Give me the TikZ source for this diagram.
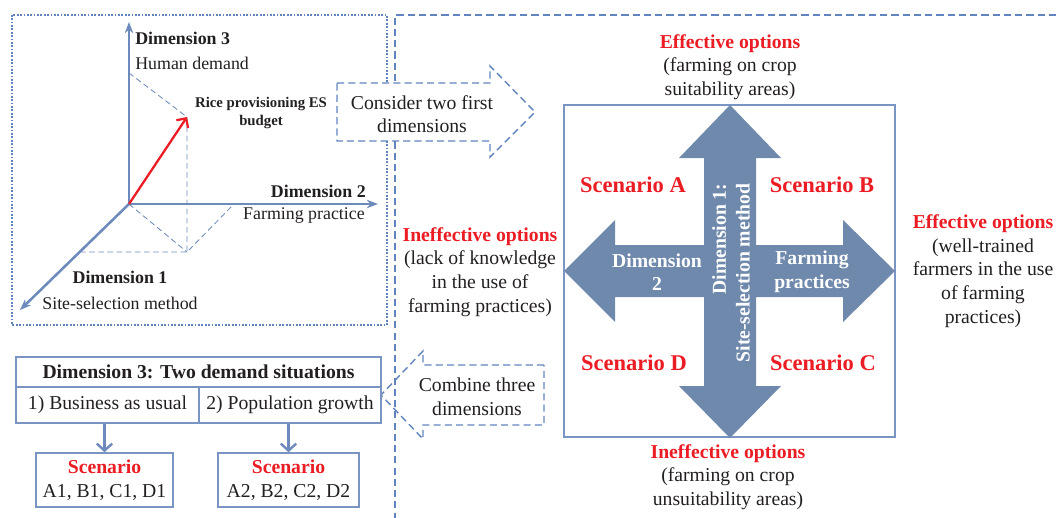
\documentclass[tikz,border=0pt]{standalone}
\usepackage{fontspec}
\setmainfont{Liberation Serif}
\usepackage{xcolor}
\usetikzlibrary{arrows.meta,positioning}

\definecolor{axisblue}{RGB}{108,138,188}
\definecolor{dashblue}{RGB}{98,132,190}
\definecolor{crossblue}{RGB}{111,137,172}
\definecolor{boxblue}{RGB}{122,149,196}
\definecolor{optred}{RGB}{236,28,36}
\definecolor{inkgray}{RGB}{35,31,32}

\begin{document}
\begin{tikzpicture}[x=0.025cm,y=-0.025cm]
  \tikzstyle{every node}=[inner sep=0pt,text=inkgray]
  \tikzstyle{axis}=[draw=axisblue,line width=1.8pt,-{Stealth[length=8pt,width=6pt]}]
  \tikzstyle{guide}=[draw=axisblue,line width=0.6pt,dash pattern=on 4pt off 2.5pt]
  \tikzstyle{regionline}=[draw=dashblue,line width=1pt,dash pattern=on 5pt off 3pt]
  \tikzstyle{dotbox}=[draw=dashblue,line width=1pt,dash pattern=on 1.2pt off 1.2pt]
  \tikzstyle{bigtext}=[font=\fontsize{14}{16.8}\selectfont,align=center]
  \tikzstyle{axtext}=[font=\fontsize{12.7}{15}\selectfont]
  \tikzstyle{axbold}=[font=\fontsize{12.7}{15}\selectfont\bfseries]
  \tikzstyle{scen}=[text=optred,font=\fontsize{16}{19}\selectfont\bfseries]
  \tikzstyle{crosstext}=[text=white,font=\fontsize{14}{16.8}\selectfont\bfseries,align=center]
  \tikzstyle{tablecell}=[draw=boxblue,line width=1.1pt,minimum height=0.9cm,font=\fontsize{14}{16.8}\selectfont]
  \tikzstyle{boxarrow}=[draw=axisblue,line width=1.7pt,-{Straight Barb[length=5pt,width=11pt]}]

  \useasboundingbox (0,0) rectangle (1056,518);

  % frames
  \draw[regionline] (1056,15) -- (395,15) -- (395,518);
  \draw[dotbox] (12,15) rectangle (387,325);

  % 3D axes
  \coordinate (origin) at (129,204);
  \coordinate (zend) at (129,22);
  \coordinate (xend) at (378,204);
  \coordinate (yend) at (20,310);
  \coordinate (budget) at (187,117);
  \coordinate (floor) at (187,252);
  \coordinate (zmark) at (129,73);
  \coordinate (xmark) at (234,204);
  \coordinate (ymark) at (80,252);
  \draw[guide] (zmark) -- (budget) -- (floor);
  \draw[guide] (ymark) -- (floor) -- (xmark);
  \draw[guide] (origin) -- (floor);
  \draw[axis] (origin) -- (zend);
  \draw[axis] (origin) -- (xend);
  \draw[axis] (origin) -- (yend);
  \draw[draw=optred,line width=1.6pt,-{Straight Barb[length=5pt,width=10pt]}] (origin) -- (budget);

  \node[axbold,anchor=west] (dimthree) at (135,38) {Dimension 3};
  \node[axtext,anchor=west] (humandemand) at (135,63) {Human demand};
  \node[axbold,anchor=east] (dimtwo) at (366,191) {Dimension 2};
  \node[axtext,anchor=east] (farmpractice) at (365,216) {Farming practice};
  \node[axbold] (dimone) at (120,277) {Dimension 1};
  \node[axtext] (sitesel) at (120,303) {Site-selection method};
  \node[font=\fontsize{10.5}{12.8}\selectfont\bfseries,align=center] (ricees) at (261,113) {Rice provisioning ES\\budget};

  % consider arrow
  \draw[regionline,fill=white] (337,83) -- (490,83) -- (490,66) -- (535,112)
    -- (490,157) -- (490,141) -- (337,141) -- cycle;
  \node[bigtext] (considertext) at (422,114) {Consider two first\\dimensions};

  % combine arrow
  \draw[regionline] (544,365) -- (423,365) -- (423,351) -- (381,395)
    -- (423,439) -- (423,425) -- (544,425) -- cycle;
  \node[bigtext] (combinetext) at (477,397) {Combine three\\dimensions};

  % options square with cross
  \draw[draw=boxblue,line width=1.1pt] (564,105) rectangle (895,437);
  \fill[crossblue] (730,105) -- (781,158) -- (756,158) -- (756,245) -- (843,245)
    -- (843,220) -- (895,271) -- (843,322) -- (843,297) -- (756,297) -- (756,386)
    -- (781,386) -- (730,438) -- (679,386) -- (704,386) -- (704,297) -- (615,297)
    -- (615,322) -- (564,271) -- (615,220) -- (615,245) -- (704,245) -- (704,158)
    -- (679,158) -- cycle;
  \node[crosstext] (dimtwocross) at (657,272) {Dimension\\2};
  \node[crosstext] (farmcross) at (812,272) {Farming\\practices};
  \node[crosstext,rotate=90,align=right] (dimonecross) at (731,273) {Dimension 1:\\Site-selection method};

  \node[scen] (scena) at (633,185) {Scenario A};
  \node[scen] (scenb) at (822,185) {Scenario B};
  \node[scen] (scend) at (634,363) {Scenario D};
  \node[scen] (scenc) at (823,363) {Scenario C};

  \node[bigtext] (opttop) at (730,67) {\textcolor{optred}{\bfseries Effective options}\\(farming on crop\\suitability areas)};
  \node[bigtext] (optbottom) at (728,477) {\textcolor{optred}{\bfseries Ineffective options}\\(farming on crop\\unsuitability areas)};
  \node[bigtext] (optleft) at (480,272) {\textcolor{optred}{\bfseries Ineffective options}\\(lack of knowledge\\in the use of\\farming practices)};
  \node[bigtext] (optright) at (983,271) {\textcolor{optred}{\bfseries Effective options}\\(well-trained\\farmers in the use\\of farming\\practices)};

  % demand table
  \node[tablecell,minimum width=9.125cm,minimum height=0.75cm,font=\fontsize{14}{16.8}\selectfont\bfseries] (demandtitle) at (198.5,372) {Dimension 3: Two demand situations};
  \node[tablecell,minimum width=4.575cm] (bau) at (107.5,405) {1) Business as usual};
  \node[tablecell,minimum width=4.55cm] (popgrowth) at (290,405) {2) Population growth};
  \node[tablecell,minimum width=3.425cm,minimum height=1.35cm,align=center] (scenone) at (104.5,480) {\textcolor{optred}{\bfseries Scenario}\\A1, B1, C1, D1};
  \node[tablecell,minimum width=3.525cm,minimum height=1.35cm,align=center] (scentwo) at (288.5,480) {\textcolor{optred}{\bfseries Scenario}\\A2, B2, C2, D2};
  \draw[boxarrow] (scenone.north |- bau.south) -- (scenone.north);
  \draw[boxarrow] (scentwo.north |- popgrowth.south) -- (scentwo.north);
\end{tikzpicture}
\end{document}
